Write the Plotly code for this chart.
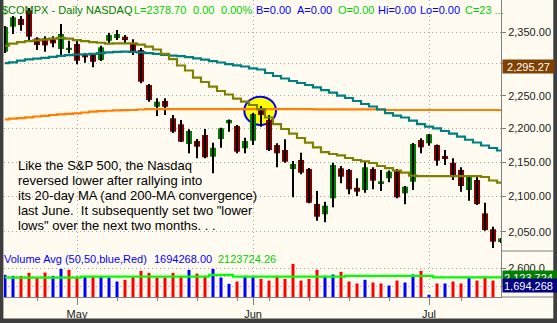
import math
import datetime
import plotly.graph_objects as go

# ---------------- data ----------------
dates = [
    "2006-04-18", "2006-04-19", "2006-04-20", "2006-04-21", "2006-04-24", "2006-04-25", "2006-04-26",
    "2006-04-27", "2006-04-28", "2006-05-01", "2006-05-02", "2006-05-03", "2006-05-04", "2006-05-05",
    "2006-05-08", "2006-05-09", "2006-05-10", "2006-05-11", "2006-05-12", "2006-05-15", "2006-05-16",
    "2006-05-17", "2006-05-18", "2006-05-19", "2006-05-22", "2006-05-23", "2006-05-24", "2006-05-25",
    "2006-05-26", "2006-05-30", "2006-05-31", "2006-06-01", "2006-06-02", "2006-06-05", "2006-06-06",
    "2006-06-07", "2006-06-08", "2006-06-09", "2006-06-12", "2006-06-13", "2006-06-14", "2006-06-15",
    "2006-06-16", "2006-06-19", "2006-06-20", "2006-06-21", "2006-06-22", "2006-06-23", "2006-06-26",
    "2006-06-27", "2006-06-28", "2006-06-29", "2006-06-30", "2006-07-03", "2006-07-05", "2006-07-06",
    "2006-07-07", "2006-07-10", "2006-07-11", "2006-07-12", "2006-07-13", "2006-07-14", "2006-07-17",
]

opens = [2319.0, 2359.1, 2371.5, 2386.0, 2340.3, 2340.3, 2338.7, 2323.3, 2322.5, 2331.2,
         2313.8, 2313.8, 2305.8, 2336.5, 2340.7, 2343.0, 2332.3, 2321.7, 2266.7, 2233.2,
         2242.0, 2215.6, 2206.5, 2176.9, 2181.4, 2190.4, 2158.1, 2184.4, 2208.0, 2203.9,
         2170.5, 2181.9, 2229.3, 2213.0, 2175.4, 2168.0, 2140.0, 2153.2, 2140.0, 2089.3,
         2074.6, 2097.4, 2141.0, 2138.5, 2112.7, 2109.4, 2140.0, 2118.1, 2126.4, 2138.5,
         2104.6, 2121.4, 2182.9, 2178.0, 2175.4, 2159.1, 2149.2, 2138.5, 2109.4, 2123.9,
         2076.0, 2053.4, 2035.6]
highs = [2360.2, 2376.4, 2376.4, 2389.5, 2342.1, 2343.7, 2343.7, 2363.4, 2336.5, 2336.5,
         2317.0, 2317.0, 2328.6, 2348.9, 2353.7, 2345.6, 2338.7, 2324.9, 2268.3, 2246.1,
         2246.1, 2220.6, 2213.0, 2199.0, 2184.4, 2199.4, 2178.9, 2201.4, 2213.8, 2205.4,
         2186.3, 2223.6, 2234.4, 2220.6, 2178.0, 2184.0, 2151.7, 2164.0, 2141.4, 2108.0,
         2092.6, 2149.2, 2144.4, 2140.0, 2126.4, 2152.2, 2142.5, 2138.5, 2137.8, 2140.0,
         2115.2, 2178.4, 2185.5, 2191.9, 2176.2, 2168.0, 2155.7, 2142.5, 2131.2, 2128.7,
         2091.1, 2057.1, 2041.2]
lows = [2316.9, 2347.3, 2352.6, 2337.6, 2321.7, 2319.0, 2326.0, 2313.8, 2316.5, 2299.1,
        2301.6, 2294.3, 2304.2, 2332.3, 2337.6, 2332.3, 2313.8, 2269.4, 2240.9, 2219.1,
        2220.6, 2193.4, 2179.9, 2163.1, 2155.7, 2155.7, 2133.7, 2171.4, 2195.3, 2163.1,
        2163.1, 2175.4, 2202.9, 2166.5, 2142.5, 2149.2, 2098.9, 2132.2, 2090.3, 2065.5,
        2063.3, 2084.6, 2119.1, 2103.2, 2100.8, 2105.5, 2110.4, 2108.0, 2120.6, 2097.4,
        2088.9, 2109.4, 2163.1, 2174.4, 2144.9, 2145.9, 2123.9, 2107.0, 2094.0, 2087.9,
        2051.4, 2027.3, 2034.2]
closes = [2358.6, 2374.3, 2361.8, 2343.0, 2329.7, 2329.0, 2332.3, 2347.3, 2325.2, 2304.7,
          2310.1, 2303.1, 2326.0, 2345.6, 2347.3, 2337.6, 2318.5, 2271.8, 2243.5, 2240.9,
          2233.2, 2195.3, 2180.4, 2196.4, 2172.9, 2157.2, 2171.4, 2200.5, 2213.0, 2165.5,
          2181.4, 2222.1, 2220.6, 2168.0, 2163.1, 2150.7, 2147.3, 2134.6, 2091.1, 2071.2,
          2086.9, 2145.9, 2128.7, 2110.4, 2107.0, 2142.5, 2122.9, 2122.0, 2136.0, 2098.9,
          2114.2, 2176.9, 2172.0, 2191.5, 2152.2, 2154.7, 2131.2, 2115.2, 2130.2, 2089.3,
          2052.4, 2036.0, 2040.5]

ma20 = [2328.5, 2332.0, 2334.4, 2336.0, 2337.1, 2338.4, 2340.0, 2341.2, 2340.0, 2337.6,
        2336.0, 2334.4, 2333.3, 2332.0, 2332.3, 2332.3, 2332.3, 2330.4, 2327.2, 2322.5,
        2315.4, 2307.4, 2297.2, 2289.3, 2278.1, 2271.4, 2264.1, 2257.4, 2252.0, 2245.8,
        2241.2, 2235.9, 2229.7, 2216.8, 2206.9, 2199.4, 2192.6, 2185.9, 2178.9, 2172.0,
        2165.0, 2162.1, 2159.9, 2156.2, 2153.2, 2151.3, 2148.8, 2144.4, 2141.4, 2137.8,
        2134.8, 2130.2, 2129.7, 2129.7, 2129.7, 2129.7, 2129.7, 2129.7, 2129.7, 2129.7,
        2128.3, 2123.2, 2120.0]
ma50 = [2300.8, 2302.2, 2304.9, 2306.8, 2308.0, 2309.3, 2310.7, 2312.4, 2313.6, 2314.6,
        2314.9, 2315.4, 2316.6, 2317.9, 2318.7, 2319.0, 2318.8, 2317.9, 2316.6, 2315.4,
        2313.8, 2312.8, 2311.9, 2310.3, 2308.5, 2306.5, 2304.2, 2301.9, 2299.5, 2297.5,
        2295.6, 2292.8, 2290.9, 2285.4, 2280.7, 2276.8, 2272.9, 2269.8, 2266.7, 2263.1,
        2258.9, 2255.0, 2250.4, 2246.6, 2242.0, 2237.4, 2233.6, 2229.0, 2223.6, 2219.8,
        2216.8, 2212.2, 2206.9, 2202.9, 2200.5, 2196.4, 2192.6, 2188.1, 2183.3, 2179.2,
        2174.7, 2171.0, 2167.3]
ma200 = [2214.1, 2215.0, 2216.0, 2217.1, 2218.3, 2219.4, 2220.6, 2221.7, 2222.4, 2223.2,
         2224.4, 2225.6, 2226.4, 2227.1, 2227.6, 2228.0, 2228.2, 2229.0, 2229.7, 2229.7,
         2229.7, 2229.7, 2229.7, 2229.7, 2229.7, 2229.7, 2229.7, 2229.7, 2229.7, 2229.7,
         2229.7, 2229.7, 2229.7, 2229.7, 2229.7, 2229.7, 2229.7, 2229.7, 2229.7, 2229.3,
         2229.3, 2229.3, 2229.3, 2229.3, 2229.3, 2229.3, 2229.3, 2229.3, 2228.2, 2228.2,
         2228.2, 2228.2, 2228.2, 2228.2, 2228.2, 2228.2, 2228.2, 2228.2, 2228.2, 2228.2,
         2228.2, 2228.2, 2228.2]

volume = [2248000, 2194000, 2194000, 2357000, 2102000, 2373000, 2194000, 2573000, 2519000, 2157000,
          2157000, 2194000, 2157000, 2102000, 1886000, 1978000, 2157000, 2465000, 2357000, 2102000,
          2102000, 2357000, 2157000, 2519000, 2319000, 2194000, 2573000, 2102000, 1762000, 1886000,
          2194000, 2157000, 2032000, 1940000, 2194000, 2032000, 2843000, 1940000, 2032000, 2519000,
          2194000, 2265000, 2411000, 1886000, 1778000, 1978000, 1832000, 1778000, 1670000, 1940000,
          1832000, 2265000, 2465000, 1167000, 1778000, 1778000, 1886000, 1778000, 2086000, 1940000,
          2140000, 1940000, None]
vol_avg50 = [2102000, 2102000, 2102000, 2102000, 2102000, 2102000, 2102000, 2102000, 2102000, 2102000,
             2157000, 2157000, 2157000, 2157000, 2157000, 2157000, 2157000, 2157000, 2157000, 2157000,
             2157000, 2157000, 2157000, 2157000, 2157000, 2157000, 2248000, 2248000, 2248000, 2157000,
             2157000, 2157000, 2157000, 2157000, 2157000, 2157000, 2157000, 2157000, 2157000, 2157000,
             2157000, 2157000, 2157000, 2194000, 2194000, 2194000, 2194000, 2194000, 2194000, 2194000,
             2194000, 2194000, 2194000, 2194000, 2110000, 2110000, 2110000, 2110000, 2110000, 2110000,
             2110000, 2110000, 2110000]

price_ticks = [2050, 2100, 2150, 2200, 2250, 2300, 2350]
price_tick_labels = ["2,050.00", "2,100.00", "2,150.00", "2,200.00", "2,250.00", "2,300.00", "2,350.00"]
month_labels = ["May", "Jun", "Jul"]
vol_tick_vals = [1620000, 2160000, 2600000]
vol_tick_labels = ["", "", "2,600.0"]
ma200_marker_value = 2295.27
last_volume = 1694268
last_vol_avg = 2123724

header_items = [("$COMPX - Daily", 0.5, "#008000"), ("NASDAQ", 84.5, "#008000"),
                ("L=2378.70", 133, "#00D000"), ("0.00", 192, "#00D000"), ("0.00%", 220, "#00D000"),
                ("B=0.00", 255, "#0000FF"), ("A=0.00", 296, "#0000FF"), ("O=0.00", 337, "#00D000"),
                ("Hi=0.00", 377, "#0000FF"), ("Lo=0.00", 419, "#0000FF"), ("C=23 ...", 464, "#00D000")]
vol_header_items = [("Volume Avg (50,50,blue,Red)", 3, "#0000FF"), ("1694268.00", 153, "#0000FF"),
                    ("2123724.26", 217, "#00D000")]
note_lines = ["Like the S&amp;P 500, the Nasdaq",
              "reversed lower after rallying into",
              "its 20-day MA (and 200-MA convergence)",
              "last June.\u00a0 It subsequently set two \"lower",
              "lows\" over the next two months. . ."]

# ---------------- derived ticks ----------------
n = len(dates)
xs = list(range(n))
dts = [datetime.date.fromisoformat(d) for d in dates]
month_idx = [k for k in range(1, n) if dts[k].month != dts[k - 1].month]
week_idx = [k for k in range(1, n - 1) if dts[k].isocalendar()[1] != dts[k - 1].isocalendar()[1]]

# ---------------- geometry ----------------
W, H = 557, 323
L_M, R_M, T_M, B_M = 4, 56, 0, 26
PW, PH = W - L_M - R_M, H - T_M - B_M
def px_x(px):
    return (px - L_M) / PW
def px_y(py):
    return 1 - (py - T_M) / PH
vol_top = px_y(251)
FONT = "Liberation Sans, Arial, sans-serif"
BG = "#FFFBF0"
GRID = "#A8A8A8"
AXC = "#808080"

fig = go.Figure()

# wicks
wx, wy = [], []
for k in xs:
    wx += [k, k, None]
    wy += [lows[k], highs[k], None]
fig.add_trace(go.Scatter(x=wx, y=wy, mode="lines", line=dict(color="#000000", width=2),
                         hoverinfo="skip", xaxis="x", yaxis="y"))
# bodies
body_base = [min(o, c) for o, c in zip(opens, closes)]
body_len = [abs(c - o) for o, c in zip(opens, closes)]
body_col = ["#008000" if c >= o else "#800000" for o, c in zip(opens, closes)]
fig.add_trace(go.Bar(x=xs, y=body_len, base=body_base, width=0.75,
                     marker=dict(color=body_col, line=dict(width=0)), xaxis="x", yaxis="y"))
# moving averages
for vals, col in [(ma200, "#FF8000"), (ma50, "#008080"), (ma20, "#808000")]:
    fig.add_trace(go.Scatter(x=xs, y=vals, mode="lines", line=dict(color=col, width=2.2, shape="hvh"),
                             xaxis="x", yaxis="y"))

# volume
vol_col = []
for k in xs:
    ref = closes[k - 1] if k > 0 else opens[k]
    vol_col.append("#0000FF" if closes[k] > ref else "#FF0000")
fig.add_trace(go.Bar(x=xs, y=volume, width=0.375, marker=dict(color=vol_col, line=dict(width=0)),
                     xaxis="x2", yaxis="y2"))
fig.add_trace(go.Scatter(x=xs, y=vol_avg50, mode="lines", line=dict(color="#00FF00", width=2.2, shape="hvh"),
                         xaxis="x2", yaxis="y2"))

xr = [-0.125, n - 1]
ylog = [math.log10(2023.1), math.log10(2402.6)]

fig.update_layout(
    width=W, height=H, margin=dict(l=L_M, r=R_M, t=T_M, b=B_M),
    paper_bgcolor=BG, plot_bgcolor="rgba(0,0,0,0)", showlegend=False, hovermode=False, barmode="overlay",
    font=dict(family=FONT, size=11, color="#202020"),
    xaxis=dict(domain=[0, 1], anchor="y", range=xr, tickvals=month_idx, showticklabels=False, ticks="",
               showgrid=True, gridcolor=GRID, griddash="1px,3px", gridwidth=1, zeroline=False, showline=False),
    yaxis=dict(domain=[vol_top, 1], anchor="x", type="log", range=ylog, side="right",
               tickvals=price_ticks, ticktext=price_tick_labels, ticks="outside", ticklen=4, tickcolor=AXC,
               showgrid=True, gridcolor=GRID, griddash="1px,3px", gridwidth=1, zeroline=False,
               showline=True, linecolor=AXC, linewidth=1, tickfont=dict(size=11, color="#202020")),
    xaxis2=dict(domain=[0, 1], anchor="y2", range=xr, tickvals=month_idx, ticktext=month_labels,
                ticks="outside", ticklen=7, tickcolor=AXC, showgrid=True, gridcolor=GRID, griddash="1px,3px",
                minor=dict(tickmode="array", tickvals=week_idx, ticks="outside", ticklen=3, tickcolor=AXC,
                           showgrid=False),
                zeroline=False, showline=True, linecolor=AXC, linewidth=1,
                tickfont=dict(size=11, color="#202020")),
    yaxis2=dict(domain=[0, vol_top], anchor="x2", range=[1043000, 3546000], side="right",
                tickvals=vol_tick_vals, ticktext=vol_tick_labels, ticks="outside", ticklen=4, tickcolor=AXC,
                showgrid=True, gridcolor=GRID, griddash="1px,3px", zeroline=False,
                showline=True, linecolor=AXC, linewidth=1, tickfont=dict(size=11, color="#202020")),
)

shapes = []
# highlighted circle at the 20/200-MA convergence (early June)
shapes.append(dict(type="circle", xref="paper", yref="paper", x0=px_x(244.3), x1=px_x(276),
                   y0=px_y(125), y1=px_y(96.7),
                   fillcolor="#FFFF00", line=dict(color="#0000FF", width=2), layer="below"))
# axis-area separators
shapes.append(dict(type="line", xref="paper", yref="paper", x0=1, x1=px_x(553), y0=vol_top, y1=vol_top,
                   line=dict(color=AXC, width=1)))
shapes.append(dict(type="line", xref="paper", yref="paper", x0=1, x1=px_x(553), y0=0, y1=0,
                   line=dict(color=AXC, width=1)))
# dark window frame
DK = "#3E3E3E"
shapes.append(dict(type="rect", xref="paper", yref="paper", x0=px_x(-2), x1=px_x(3.4), y0=px_y(330), y1=px_y(-5),
                   fillcolor=DK, line=dict(width=0), layer="above"))
shapes.append(dict(type="rect", xref="paper", yref="paper", x0=px_x(-2), x1=px_x(560), y0=px_y(330), y1=px_y(318.6),
                   fillcolor=DK, line=dict(width=0), layer="above"))
shapes.append(dict(type="rect", xref="paper", yref="paper", x0=px_x(553.3), x1=px_x(560), y0=px_y(330), y1=px_y(-5),
                   fillcolor=DK, line=dict(width=0), layer="above"))
fig.update_layout(shapes=shapes)

ann = []
for txt, x0, col in header_items:
    ann.append(dict(text=txt, xref="paper", yref="paper", x=px_x(x0), y=px_y(10), xanchor="left", yanchor="middle",
                    showarrow=False, font=dict(family=FONT, size=11, color=col), borderpad=0))
for txt, x0, col in vol_header_items:
    ann.append(dict(text=txt, xref="paper", yref="paper", x=px_x(x0), y=px_y(258.5), xanchor="left", yanchor="middle",
                    showarrow=False, font=dict(family=FONT, size=11, color=col), borderpad=0))
for j, line in enumerate(note_lines):
    ann.append(dict(text=line, xref="paper", yref="paper", x=px_x(17), y=px_y(165.5 + 15 * j), xanchor="left",
                    yanchor="middle", showarrow=False, font=dict(family=FONT, size=13, color="#000000"), borderpad=0))
# right-axis value boxes
ann.append(dict(text="2,295.27", xref="paper", yref="y", x=px_x(502), y=math.log10(ma200_marker_value),
                xanchor="left", yanchor="middle", showarrow=False, bgcolor="#804000", width=49, height=11,
                borderpad=1, align="center", font=dict(family=FONT, size=11, color="#FFFFFF")))
ann.append(dict(text="2,123,724", xref="paper", yref="y2", x=px_x(502), y=last_vol_avg,
                xanchor="left", yanchor="middle", showarrow=False, bgcolor="#008000", width=52, height=11,
                borderpad=1, align="left", font=dict(family=FONT, size=11, color="#FFFFFF")))
ann.append(dict(text="1,694,268", xref="paper", yref="y2", x=px_x(502), y=last_volume,
                xanchor="left", yanchor="middle", showarrow=False, bgcolor="#000080", width=52, height=11,
                borderpad=1, align="left", font=dict(family=FONT, size=11, color="#FFFFFF")))
fig.update_layout(annotations=ann)

fig.write_html("out.html")
